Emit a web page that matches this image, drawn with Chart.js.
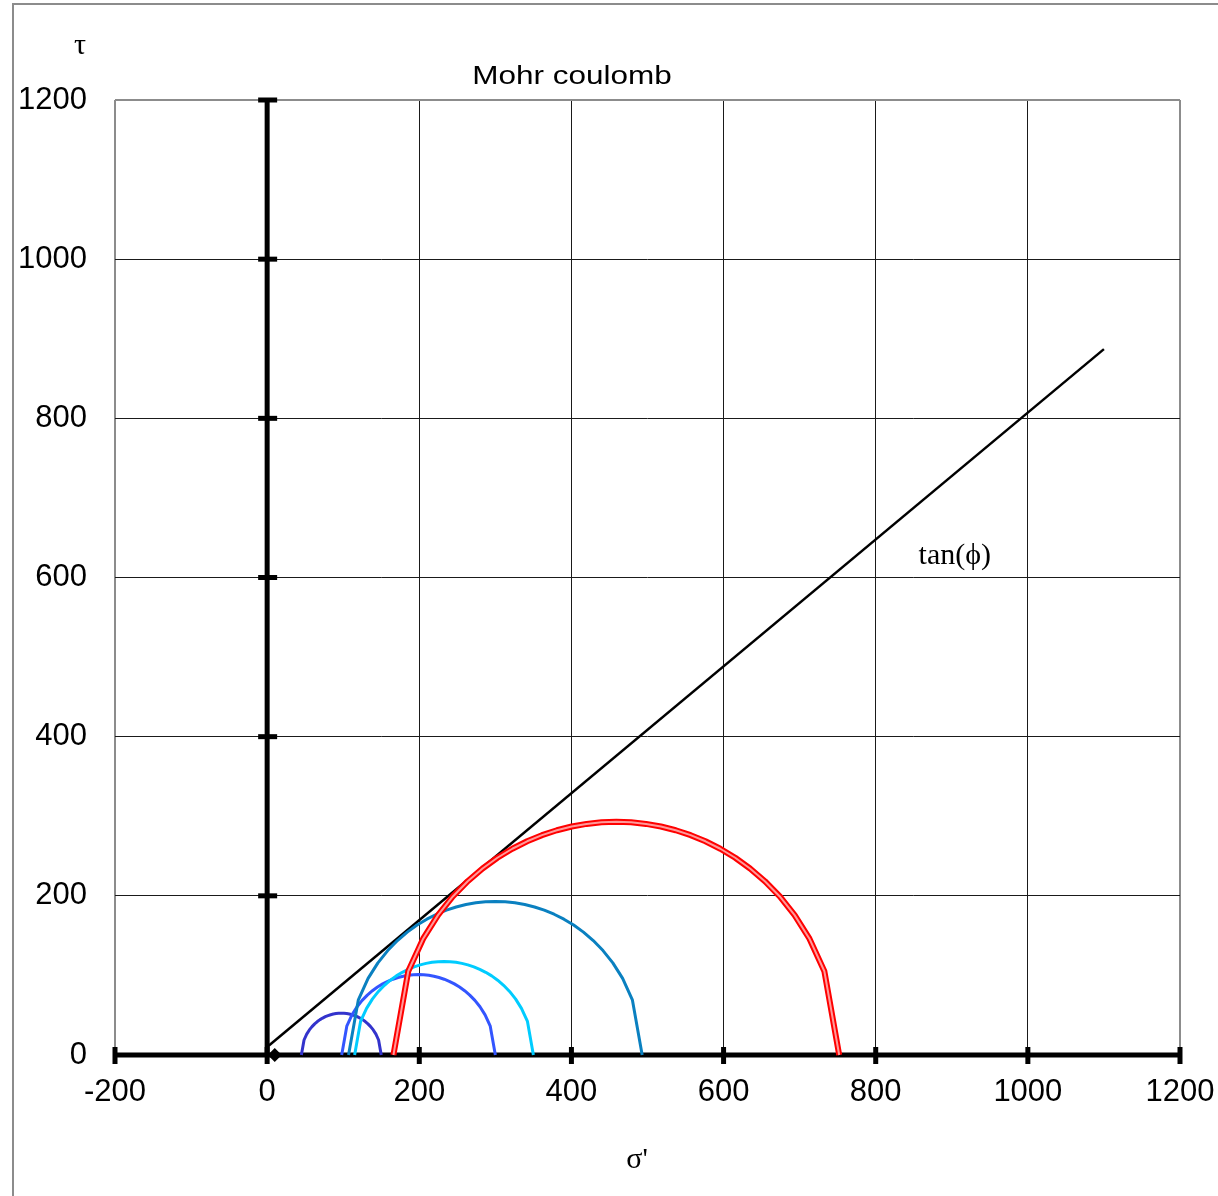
<!DOCTYPE html>
<html>
<head>
<meta charset="utf-8">
<title>Mohr coulomb</title>
<script src="https://cdn.jsdelivr.net/npm/chart.js@4.4.1/dist/chart.umd.min.js"></script>
<style>
    html, body { margin: 0; padding: 0; background: #fff; overflow: hidden; }
    #wrap { position: relative; width: 1218px; height: 1196px; }
    #frame { position: absolute; left: 12px; top: 3px; width: 1400px; height: 1400px;
             border-left: 2px solid #8c8c8c; border-top: 2px solid #8c8c8c; }
    #grafico { position: absolute; left: 0; top: 0; }
</style>
</head>
<body>
<div id="wrap">
    <div id="frame"></div>
    <canvas id="grafico" width="1218" height="1196"></canvas>
</div>
<script>
// --- DATI ---
const sigmaTicks = [-200, 0, 200, 400, 600, 800, 1000, 1200];
const tauTicks = [0, 200, 400, 600, 800, 1000, 1200];

// failure envelope tan(phi)
const envSigma = [0, 1100];
const envTau = [10, 887];

// point on the sigma axis
const markSigma = [10];
const markTau = [0];

const c1Sigma = [45, 48.5, 52, 55.5, 59, 62.5, 66, 69.5, 73, 76.5, 80, 83.5, 87, 90.5, 94, 97.5, 101, 104.5, 108, 111.5, 115, 118.5, 122, 125.5, 129, 132.5, 136, 139.5, 143, 146.5, 150];
const c1Tau = [0, 18.85, 26.19, 31.5, 35.69, 39.13, 42, 44.41, 46.43, 48.12, 49.5, 50.6, 51.44, 52.03, 52.38, 52.5, 52.38, 52.03, 51.44, 50.6, 49.5, 48.12, 46.43, 44.41, 42, 39.13, 35.69, 31.5, 26.19, 18.85, 0];

const c2Sigma = [98, 104.7, 111.5, 118.2, 124.9, 131.7, 138.4, 145.1, 151.9, 158.6, 165.3, 172.1, 178.8, 185.5, 192.3, 199, 205.7, 212.5, 219.2, 225.9, 232.7, 239.4, 246.1, 252.9, 259.6, 266.3, 273.1, 279.8, 286.5, 293.3, 300];
const c2Tau = [0, 36.26, 50.39, 60.6, 68.67, 75.28, 80.8, 85.44, 89.33, 92.57, 95.22, 97.34, 98.96, 100.1, 100.78, 101, 100.78, 100.1, 98.96, 97.34, 95.22, 92.57, 89.33, 85.44, 80.8, 75.28, 68.67, 60.6, 50.39, 36.26, 0];

const c3Sigma = [115, 122.8, 130.7, 138.5, 146.3, 154.2, 162, 169.8, 177.7, 185.5, 193.3, 201.2, 209, 216.8, 224.7, 232.5, 240.3, 248.2, 256, 263.8, 271.7, 279.5, 287.3, 295.2, 303, 310.8, 318.7, 326.5, 334.3, 342.2, 350];
const c3Tau = [0, 42.18, 58.62, 70.5, 79.88, 87.58, 94, 99.39, 103.92, 107.69, 110.78, 113.25, 115.13, 116.45, 117.24, 117.5, 117.24, 116.45, 115.13, 113.25, 110.78, 107.69, 103.92, 99.39, 94, 87.58, 79.88, 70.5, 58.62, 42.18, 0];

const c4Sigma = [107, 119.9, 132.7, 145.6, 158.5, 171.3, 184.2, 197.1, 209.9, 222.8, 235.7, 248.5, 261.4, 274.3, 287.1, 300, 312.9, 325.7, 338.6, 351.5, 364.3, 377.2, 390.1, 402.9, 415.8, 428.7, 441.5, 454.4, 467.3, 480.1, 493];
const c4Tau = [0, 69.29, 96.29, 115.8, 131.21, 143.85, 154.4, 163.26, 170.69, 176.89, 181.96, 186.01, 189.1, 191.28, 192.57, 193, 192.57, 191.28, 189.1, 186.01, 181.96, 176.89, 170.69, 163.26, 154.4, 143.85, 131.21, 115.8, 96.29, 69.29, 0];

const c5Sigma = [166, 185.5, 205.1, 224.6, 244.1, 263.7, 283.2, 302.7, 322.3, 341.8, 361.3, 380.9, 400.4, 419.9, 439.5, 459, 478.5, 498.1, 517.6, 537.1, 556.7, 576.2, 595.7, 615.3, 634.8, 654.3, 673.9, 693.4, 712.9, 732.5, 752];
const c5Tau = [0, 105.19, 146.17, 175.8, 199.2, 218.39, 234.4, 247.85, 259.14, 268.54, 276.24, 282.39, 287.08, 290.38, 292.35, 293, 292.35, 290.38, 287.08, 282.39, 276.24, 268.54, 259.14, 247.85, 234.4, 218.39, 199.2, 175.8, 146.17, 105.19, 0];

// --- HELPERS ---
function toPoints(xs, ys) {
    return xs.map((x, i) => ({ x: x, y: ys[i] }));
}

// order: higher number is drawn first (underneath)
function lineSet(label, xs, ys, color, width, order) {
    return {
        label: label,
        data: toPoints(xs, ys),
        showLine: true,
        borderColor: color,
        backgroundColor: color,
        borderWidth: width,
        pointRadius: 0,
        tension: 0,
        borderJoinStyle: 'round',
        clip: 6,
        order: order
    };
}

const numFont = { family: "Arial, 'Liberation Sans', sans-serif", size: 31 };
const serif = "'Times New Roman', 'Liberation Serif', serif";

// --- PLUGIN: assi spessi, marker e testi ---
const axesAndText = {
    id: 'axesAndText',
    beforeDatasetsDraw(chart) {
        const { ctx, scales: { x, y } } = chart;
        const x0 = x.getPixelForValue(0);
        const y0 = y.getPixelForValue(0);
        ctx.save();
        ctx.strokeStyle = '#000';
        ctx.lineWidth = 5;
        ctx.lineCap = 'butt';
        // sigma axis
        ctx.beginPath();
        ctx.moveTo(x.getPixelForValue(sigmaTicks[0]), y0);
        ctx.lineTo(x.getPixelForValue(sigmaTicks[sigmaTicks.length - 1]), y0);
        ctx.stroke();
        // tau axis
        ctx.beginPath();
        ctx.moveTo(x0, y0);
        ctx.lineTo(x0, y.getPixelForValue(tauTicks[tauTicks.length - 1]));
        ctx.stroke();
        // tick marks
        sigmaTicks.forEach(v => {
            const px = x.getPixelForValue(v);
            ctx.beginPath();
            ctx.moveTo(px, y0 - 8);
            ctx.lineTo(px, y0 + 9);
            ctx.stroke();
        });
        tauTicks.forEach(v => {
            if (v === 0) return;
            const py = y.getPixelForValue(v);
            ctx.beginPath();
            ctx.moveTo(x0 - 9, py);
            ctx.lineTo(x0 + 10, py);
            ctx.stroke();
        });
        ctx.restore();
    },
    afterDatasetsDraw(chart) {
        const { ctx, scales: { x, y } } = chart;
        // diamond marker
        ctx.save();
        ctx.fillStyle = '#000';
        markSigma.forEach((s, i) => {
            const px = x.getPixelForValue(s);
            const py = y.getPixelForValue(markTau[i]);
            ctx.beginPath();
            ctx.moveTo(px, py - 7);
            ctx.lineTo(px + 7, py);
            ctx.lineTo(px, py + 7);
            ctx.lineTo(px - 7, py);
            ctx.closePath();
            ctx.fill();
        });
        ctx.restore();
    },
    afterDraw(chart) {
        const { ctx, chartArea, scales: { x, y } } = chart;
        ctx.save();
        ctx.fillStyle = '#000';
        ctx.textAlign = 'center';

        // title (stretched like the original)
        ctx.save();
        ctx.textBaseline = 'alphabetic';
        ctx.translate(572, chartArea.top - 16);
        ctx.scale(1.26, 1);
        ctx.font = "25px Arial, 'Liberation Sans', sans-serif";
        ctx.fillText('Mohr coulomb', 0, 0);
        ctx.restore();

        ctx.textBaseline = 'middle';
        ctx.font = '30px ' + serif;
        ctx.fillText('τ', chartArea.left - 35, chartArea.top - 54);
        ctx.fillText("σ'", 637, chartArea.bottom + 105);
        ctx.fillText('tan(ϕ)', x.getPixelForValue(904), y.getPixelForValue(627));
        ctx.restore();
    }
};

// --- GRAFICO ---
const gridColor = (edgeValues) => (c) => edgeValues.includes(c.tick.value) ? '#8c8c8c' : '#1a1a1a';
const gridWidth = (edgeValues) => (c) => edgeValues.includes(c.tick.value) ? 2 : 1;

new Chart(document.getElementById('grafico'), {
    type: 'scatter',
    data: {
        datasets: [
            lineSet('tan(phi)', envSigma, envTau, '#000', 2.5, 10),
            lineSet('c1', c1Sigma, c1Tau, '#3333cc', 3, 9),
            lineSet('c2', c2Sigma, c2Tau, '#3355ff', 3, 8),
            lineSet('c3', c3Sigma, c3Tau, '#00ccff', 3, 7),
            lineSet('c4', c4Sigma, c4Tau, '#0a80c0', 3, 6),
            lineSet('c5', c5Sigma, c5Tau, '#ff0000', 6, 5),
            lineSet('c5in', c5Sigma, c5Tau, '#ff9a9a', 2, 4)
        ]
    },
    options: {
        responsive: false,
        animation: false,
        layout: { padding: { top: 100, right: 38, left: 0, bottom: 0 } },
        plugins: {
            legend: { display: false },
            title: { display: false },
            tooltip: { enabled: false }
        },
        scales: {
            x: {
                type: 'linear',
                min: -200,
                max: 1200,
                afterFit: (s) => { s.height = 141; s.paddingLeft = 0; s.paddingRight = 0; },
                ticks: {
                    stepSize: 200,
                    font: numFont,
                    color: '#000',
                    padding: 19,
                    maxRotation: 0,
                    autoSkip: false,
                    callback: (v) => String(v)
                },
                grid: { drawTicks: false, color: gridColor([-200, 1200]), lineWidth: gridWidth([-200, 1200]) },
                border: { display: false }
            },
            y: {
                type: 'linear',
                min: 0,
                max: 1200,
                afterFit: (s) => { s.width = 115; s.paddingTop = 0; s.paddingBottom = 0; },
                ticks: {
                    stepSize: 200,
                    font: numFont,
                    color: '#000',
                    padding: 28,
                    autoSkip: false,
                    callback: (v) => String(v)
                },
                grid: { drawTicks: false, color: gridColor([1200]), lineWidth: gridWidth([1200]) },
                border: { display: false }
            }
        }
    },
    plugins: [axesAndText]
});
</script>
</body>
</html>
